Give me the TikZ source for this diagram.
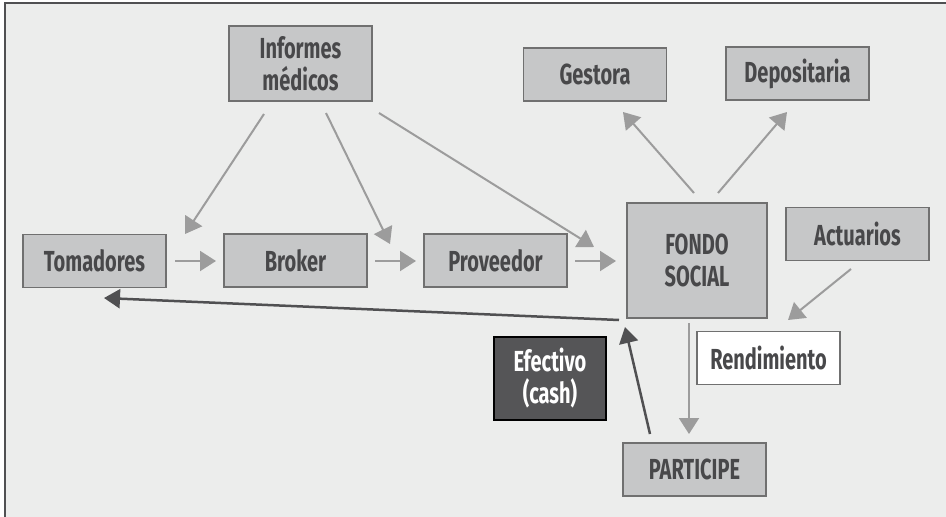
\documentclass[tikz,border=0pt]{standalone}
\usepackage{fontspec}
\usetikzlibrary{arrows.meta}
\newfontfamily\condfont{Fira Sans}[FakeStretch=0.69]
\definecolor{bgc}{HTML}{ECEDEC}
\definecolor{boxfill}{HTML}{C6C7C8}
\definecolor{boxline}{HTML}{707070}
\definecolor{txt}{HTML}{48484A}
\definecolor{arrg}{HTML}{9C9C9C}
\definecolor{arrd}{HTML}{505052}
\definecolor{darkfill}{HTML}{555557}
\begin{document}
\begin{tikzpicture}[x=1pt,y=-1pt,
  box/.style={draw=boxline, fill=boxfill, line width=1.5pt, minimum width=143pt, minimum height=53pt,
    inner sep=0pt, align=center, text=txt, font={\condfont\bfseries\fontsize{29}{32}\selectfont}},
  la/.style={draw=arrg, line width=2pt, -{Triangle[length=16pt,width=20pt]}},
  lad/.style={draw=arrd, line width=2.5pt, -{Triangle[length=16pt,width=19pt]}}]
\useasboundingbox (0,0) rectangle (946,517);
\fill[bgc] (5,3) rectangle (946,517);
\draw[line width=2pt, color=arrd] (5,517) -- (5,3) -- (946,3);

\node[box, minimum width=143pt, minimum height=75pt] (inf) at (300.5,63.5) {Informes\\médicos};
\node[box] (gest) at (595,74.5) {Gestora};
\node[box] (dep) at (797.5,73.5) {Depositaria};
\node[box] (tom) at (94.5,261) {Tomadores};
\node[box] (bro) at (295.5,260.5) {Broker};
\node[box] (prov) at (495.5,260.5) {Proveedor};
\node[box, minimum width=140pt, minimum height=115pt] (fondo) at (697,260.5) {FONDO\\SOCIAL};
\node[box] (act) at (857.5,234) {Actuarios};
\node[box, fill=white] (rend) at (768.5,358) {Rendimiento};
\node[box, fill=darkfill, draw=black, text=white, minimum width=112pt, minimum height=83pt] (efec) at (550,378.5) {Efectivo\\(cash)};
\node[box] (part) at (694.5,469.5) {PARTICIPE};

% connector ends
\coordinate (a1s) at (264,114); \coordinate (a1e) at (185,234);
\coordinate (a2s) at (326,113); \coordinate (a2e) at (390,244);
\coordinate (a3s) at (379,113); \coordinate (a3e) at (594,247);
\coordinate (a4s) at (175,261); \coordinate (a4e) at (216,261);
\coordinate (a5s) at (375,261); \coordinate (a5e) at (416,261);
\coordinate (a6s) at (575,261); \coordinate (a6e) at (616,261);
\coordinate (a7s) at (694,193); \coordinate (a7e) at (623,112);
\coordinate (a8s) at (718,193); \coordinate (a8e) at (787,112);
\coordinate (a9s) at (851,269); \coordinate (a9e) at (788,320);
\coordinate (a10s) at (689,323); \coordinate (a10e) at (689,434);
\coordinate (a11s) at (650,434); \coordinate (a11e) at (625,327);
\coordinate (a12s) at (619,320); \coordinate (a12e) at (104,298);

\draw[la] (a1s) -- (a1e);
\draw[la] (a2s) -- (a2e);
\draw[la] (a3s) -- (a3e);
\draw[la] (a4s) -- (a4e);
\draw[la] (a5s) -- (a5e);
\draw[la] (a6s) -- (a6e);
\draw[la] (a7s) -- (a7e);
\draw[la] (a8s) -- (a8e);
\draw[la] (a9s) -- (a9e);
\draw[la] (a10s) -- (a10e);
\draw[lad] (a11s) -- (a11e);
\draw[lad] (a12s) -- (a12e);
\end{tikzpicture}
\end{document}
